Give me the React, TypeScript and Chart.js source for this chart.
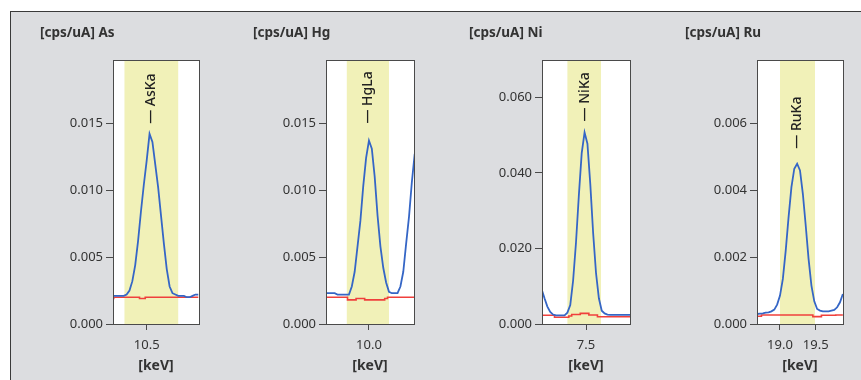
import { useEffect, useRef } from "react";
import { Chart, registerables } from "chart.js";

Chart.register(...registerables);

// ---- Spectrum data: channel energy (keV), sample and blank intensity (cps/uA) ----

const asEnergy = [10.02, 10.06, 10.10, 10.14, 10.18, 10.22, 10.26, 10.30, 10.34, 10.38, 10.42, 10.46, 10.50, 10.54, 10.58, 10.62, 10.66, 10.70, 10.74, 10.78, 10.82, 10.86, 10.90, 10.94, 10.98, 11.02, 11.06, 11.10, 11.14, 11.18, 11.22];
const asSample = [0.0021, 0.0021, 0.0021, 0.0021, 0.0021, 0.0022, 0.0025, 0.0032, 0.0044, 0.0062, 0.0084, 0.0104, 0.0122, 0.0142, 0.0136, 0.0119, 0.0102, 0.0081, 0.0060, 0.0041, 0.0028, 0.0023, 0.0022, 0.0021, 0.0021, 0.0021, 0.0020, 0.0020, 0.0021, 0.0022, 0.0022];
const asBlank = [0.0019, 0.0020, 0.0020, 0.0020, 0.0020, 0.0020, 0.0020, 0.0020, 0.0020, 0.0020, 0.0019, 0.0019, 0.0020, 0.0020, 0.0020, 0.0020, 0.0020, 0.0020, 0.0020, 0.0020, 0.0020, 0.0020, 0.0020, 0.0020, 0.0020, 0.0020, 0.0020, 0.0020, 0.0020, 0.0020, 0.0020];
const asBand = [10.19, 10.94];
const asLineEnergy = 10.56;
const asXTicks = [10.5];
const asYTicks = [0, 0.005, 0.01, 0.015];

const hgEnergy = [9.40, 9.44, 9.48, 9.52, 9.56, 9.60, 9.64, 9.68, 9.72, 9.76, 9.80, 9.84, 9.88, 9.92, 9.96, 10.00, 10.04, 10.08, 10.12, 10.16, 10.20, 10.24, 10.28, 10.32, 10.36, 10.40, 10.44, 10.48, 10.52, 10.56, 10.60, 10.64];
const hgSample = [0.0023, 0.0023, 0.0023, 0.0023, 0.0022, 0.0022, 0.0022, 0.0022, 0.0022, 0.0028, 0.0039, 0.0058, 0.0077, 0.0103, 0.0124, 0.0137, 0.0131, 0.0110, 0.0081, 0.0058, 0.0042, 0.0031, 0.0024, 0.0023, 0.0023, 0.0023, 0.0028, 0.0039, 0.0060, 0.0080, 0.0106, 0.0127];
const hgBlank = [0.0020, 0.0020, 0.0020, 0.0020, 0.0020, 0.0020, 0.0020, 0.0020, 0.0018, 0.0018, 0.0018, 0.0019, 0.0019, 0.0019, 0.0018, 0.0018, 0.0018, 0.0018, 0.0018, 0.0018, 0.0018, 0.0019, 0.0020, 0.0020, 0.0020, 0.0020, 0.0020, 0.0020, 0.0020, 0.0020, 0.0020, 0.0020];
const hgBand = [9.69, 10.28];
const hgLineEnergy = 9.99;
const hgXTicks = [10.0];
const hgYTicks = [0, 0.005, 0.01, 0.015];

const niEnergy = [6.88, 6.92, 6.96, 7.00, 7.04, 7.08, 7.12, 7.16, 7.20, 7.24, 7.28, 7.32, 7.36, 7.40, 7.44, 7.48, 7.52, 7.56, 7.60, 7.64, 7.68, 7.72, 7.76, 7.80, 7.84, 7.88, 7.92, 7.96, 8.00, 8.04, 8.08, 8.12];
const niSample = [0.0092, 0.0068, 0.0046, 0.0032, 0.0025, 0.0023, 0.0023, 0.0023, 0.0023, 0.0030, 0.0050, 0.0115, 0.0215, 0.0340, 0.0452, 0.0507, 0.0477, 0.0370, 0.0240, 0.0135, 0.0068, 0.0035, 0.0028, 0.0025, 0.0024, 0.0024, 0.0024, 0.0024, 0.0024, 0.0024, 0.0024, 0.0024];
const niBlank = [0.0023, 0.0023, 0.0023, 0.0023, 0.0023, 0.0018, 0.0018, 0.0018, 0.0018, 0.0018, 0.0021, 0.0025, 0.0025, 0.0025, 0.0028, 0.0028, 0.0028, 0.0024, 0.0024, 0.0024, 0.0019, 0.0019, 0.0019, 0.0019, 0.0019, 0.0019, 0.0019, 0.0019, 0.0019, 0.0019, 0.0019, 0.0019];
const niBand = [7.24, 7.71];
const niLineEnergy = 7.49;
const niXTicks = [7.5];
const niYTicks = [0, 0.02, 0.04, 0.06];

const ruEnergy = [18.68, 18.72, 18.76, 18.80, 18.84, 18.88, 18.92, 18.96, 19.00, 19.04, 19.08, 19.12, 19.16, 19.20, 19.24, 19.28, 19.32, 19.36, 19.40, 19.44, 19.48, 19.52, 19.56, 19.60, 19.64, 19.68, 19.72, 19.76, 19.80, 19.84, 19.88];
const ruSample = [0.00030, 0.00031, 0.00032, 0.00034, 0.00035, 0.00038, 0.00043, 0.00058, 0.00085, 0.00135, 0.00220, 0.00320, 0.00410, 0.00465, 0.00480, 0.00460, 0.00390, 0.00295, 0.00195, 0.00115, 0.00068, 0.00045, 0.00040, 0.00038, 0.00038, 0.00038, 0.00040, 0.00042, 0.00050, 0.00065, 0.00090];
const ruBlank = [0.00023, 0.00023, 0.00027, 0.00027, 0.00027, 0.00027, 0.00027, 0.00027, 0.00027, 0.00027, 0.00027, 0.00027, 0.00027, 0.00027, 0.00027, 0.00027, 0.00027, 0.00027, 0.00027, 0.00027, 0.00022, 0.00022, 0.00022, 0.00026, 0.00026, 0.00026, 0.00026, 0.00026, 0.00027, 0.00027, 0.00027];
const ruBand = [19.0, 19.49];
const ruLineEnergy = 19.24;
const ruXTicks = [19.0, 19.5];
const ruYTicks = [0, 0.002, 0.004, 0.006];

// ---- Look and layout ----

const FONT = "'Noto Sans', 'Liberation Sans', sans-serif";
const TEXT = "#333333";
const AXIS = "#4a4a4a";
const SAMPLE_COLOR = "#3566c6";
const BLANK_COLOR = "#f0403c";
const BAND_COLOR = "#f1f1b8";
const PANEL_BG = "#dcdde0";
const CANVAS_TOP = 11;
const CANVAS_HEIGHT = 369;
const X_AXIS_HEIGHT = 56;

type PanelSpec = {
  title: string;
  line: string;
  lineEnergy: number;
  energy: number[];
  sample: number[];
  blank: number[];
  band: number[];
  xMin: number;
  xMax: number;
  yMax: number;
  xTicks: number[];
  yTicks: number[];
  yDigits: number;
  canvasLeft: number;
  canvasWidth: number;
  plotLeft: number;
  plotRight: number;
  labelGap: number;
};

const panels: PanelSpec[] = [
  {
    title: "[cps/uA] As", line: "AsKa", lineEnergy: asLineEnergy,
    energy: asEnergy, sample: asSample, blank: asBlank, band: asBand,
    xMin: 10.03, xMax: 11.23, yMax: 0.0197, xTicks: asXTicks, yTicks: asYTicks, yDigits: 3,
    canvasLeft: 30, canvasWidth: 190, plotLeft: 113, plotRight: 199, labelGap: 10,
  },
  {
    title: "[cps/uA] Hg", line: "HgLa", lineEnergy: hgLineEnergy,
    energy: hgEnergy, sample: hgSample, blank: hgBlank, band: hgBand,
    xMin: 9.399, xMax: 10.63, yMax: 0.0197, xTicks: hgXTicks, yTicks: hgYTicks, yDigits: 3,
    canvasLeft: 243, canvasWidth: 192, plotLeft: 326, plotRight: 414, labelGap: 17,
  },
  {
    title: "[cps/uA] Ni", line: "NiKa", lineEnergy: niLineEnergy,
    energy: niEnergy, sample: niSample, blank: niBlank, band: niBand,
    xMin: 6.885, xMax: 8.115, yMax: 0.0698, xTicks: niXTicks, yTicks: niYTicks, yDigits: 3,
    canvasLeft: 459, canvasWidth: 191, plotLeft: 542, plotRight: 630, labelGap: 11,
  },
  {
    title: "[cps/uA] Ru", line: "RuKa", lineEnergy: ruLineEnergy,
    energy: ruEnergy, sample: ruSample, blank: ruBlank, band: ruBand,
    xMin: 18.678, xMax: 19.882, yMax: 0.0079, xTicks: ruXTicks, yTicks: ruYTicks, yDigits: 3,
    canvasLeft: 675, canvasWidth: 186, plotLeft: 757, plotRight: 843, labelGap: 15,
  },
];

function decorPlugin(p: PanelSpec) {
  return {
    id: "spectrumDecor",
    beforeDraw(chart: any) {
      const { ctx, chartArea: a } = chart;
      ctx.save();
      ctx.fillStyle = "#ffffff";
      ctx.fillRect(a.left, a.top, a.right - a.left, a.bottom - a.top);
      ctx.restore();
    },
    beforeDatasetsDraw(chart: any) {
      const { ctx, chartArea: a, scales } = chart;
      const x0 = scales.x.getPixelForValue(p.band[0]);
      const x1 = scales.x.getPixelForValue(p.band[1]);
      ctx.save();
      ctx.fillStyle = BAND_COLOR;
      ctx.fillRect(x0, a.top, x1 - x0, a.bottom - a.top);
      ctx.restore();
    },
    afterDatasetsDraw(chart: any) {
      const { ctx, scales } = chart;
      const peak = Math.max(...p.sample);
      const x = scales.x.getPixelForValue(p.lineEnergy);
      const y = scales.y.getPixelForValue(peak) - p.labelGap;
      ctx.save();
      ctx.translate(x, y);
      ctx.rotate(-Math.PI / 2);
      ctx.font = `500 14px ${FONT}`;
      ctx.fillStyle = "#222222";
      ctx.textAlign = "left";
      ctx.textBaseline = "middle";
      ctx.fillText("\u2014 " + p.line, 0, 0);
      ctx.restore();
    },
    afterDraw(chart: any) {
      const { ctx, chartArea: a } = chart;
      ctx.save();
      ctx.strokeStyle = AXIS;
      ctx.lineWidth = 1;
      ctx.strokeRect(
        Math.round(a.left) + 0.5,
        Math.round(a.top) + 0.5,
        Math.round(a.right - a.left),
        Math.round(a.bottom - a.top)
      );
      ctx.restore();
    },
  };
}

function SpectrumPanel({ p }: { p: PanelSpec }) {
  const ref = useRef<HTMLCanvasElement | null>(null);

  useEffect(() => {
    if (!ref.current) return;
    const titleX = p.canvasLeft + 10;
    const yAxisWidth = p.plotLeft - titleX;
    const rightPad = p.canvasLeft + p.canvasWidth - p.plotRight;

    const chart = new Chart(ref.current, {
      type: "line",
      data: {
        datasets: [
          {
            label: "sample",
            data: p.energy.map((x, i) => ({ x, y: p.sample[i] })),
            borderColor: SAMPLE_COLOR,
            borderWidth: 1.8,
            pointRadius: 0,
            tension: 0,
            fill: false,
          },
          {
            label: "blank",
            data: p.energy.map((x, i) => ({ x, y: p.blank[i] })),
            borderColor: BLANK_COLOR,
            borderWidth: 1.6,
            pointRadius: 0,
            stepped: "middle",
            fill: false,
          },
        ],
      },
      options: {
        responsive: false,
        animation: false,
        events: [],
        layout: { padding: { left: 10, right: rightPad, top: 0, bottom: 0 } },
        plugins: {
          legend: { display: false },
          tooltip: { enabled: false },
          title: {
            display: true,
            text: p.title,
            align: "start",
            color: TEXT,
            font: { family: FONT, size: 13.5, weight: "bold" },
            padding: { top: 14, bottom: 19 },
          },
        },
        scales: {
          x: {
            type: "linear",
            min: p.xMin,
            max: p.xMax,
            afterBuildTicks: (s: any) => {
              s.ticks = p.xTicks.map((v) => ({ value: v }));
            },
            afterFit: (s: any) => {
              s.height = X_AXIS_HEIGHT;
            },
            ticks: {
              autoSkip: false,
              maxRotation: 0,
              padding: 7,
              color: TEXT,
              font: { family: FONT, size: 13 },
              callback: (v: any) => Number(v).toFixed(1),
            },
            grid: { drawOnChartArea: false, drawTicks: true, tickLength: 6, color: AXIS },
            border: { display: true, color: AXIS, width: 1 },
            title: {
              display: true,
              text: "[keV]",
              color: TEXT,
              font: { family: FONT, size: 14, weight: "bold" },
              padding: { top: 0, bottom: 6 },
            },
          },
          y: {
            type: "linear",
            min: 0,
            max: p.yMax,
            afterBuildTicks: (s: any) => {
              s.ticks = p.yTicks.map((v) => ({ value: v }));
            },
            afterFit: (s: any) => {
              s.width = yAxisWidth;
            },
            ticks: {
              padding: 3,
              color: TEXT,
              font: { family: FONT, size: 13 },
              callback: (v: any) => Number(v).toFixed(p.yDigits),
            },
            grid: { drawOnChartArea: false, drawTicks: true, tickLength: 7, color: AXIS },
            border: { display: true, color: AXIS, width: 1 },
          },
        },
      },
      plugins: [decorPlugin(p)],
    } as any);

    return () => chart.destroy();
  }, [p]);

  return (
    <canvas
      ref={ref}
      width={p.canvasWidth}
      height={CANVAS_HEIGHT}
      style={{
        position: "absolute",
        left: p.canvasLeft,
        top: CANVAS_TOP,
        width: p.canvasWidth,
        height: CANVAS_HEIGHT,
      }}
    />
  );
}

export default function App() {
  return (
    <div
      style={{
        position: "fixed",
        left: 0,
        top: 0,
        width: 861,
        height: 380,
        background: "#ffffff",
        overflow: "hidden",
      }}
    >
      <div
        style={{
          position: "absolute",
          left: 10,
          top: 11,
          width: 860,
          height: 380,
          background: PANEL_BG,
          borderLeft: "1px solid #3a3a3a",
          borderTop: "1px solid #3a3a3a",
        }}
      />
      {panels.map((p) => (
        <SpectrumPanel key={p.title} p={p} />
      ))}
    </div>
  );
}
